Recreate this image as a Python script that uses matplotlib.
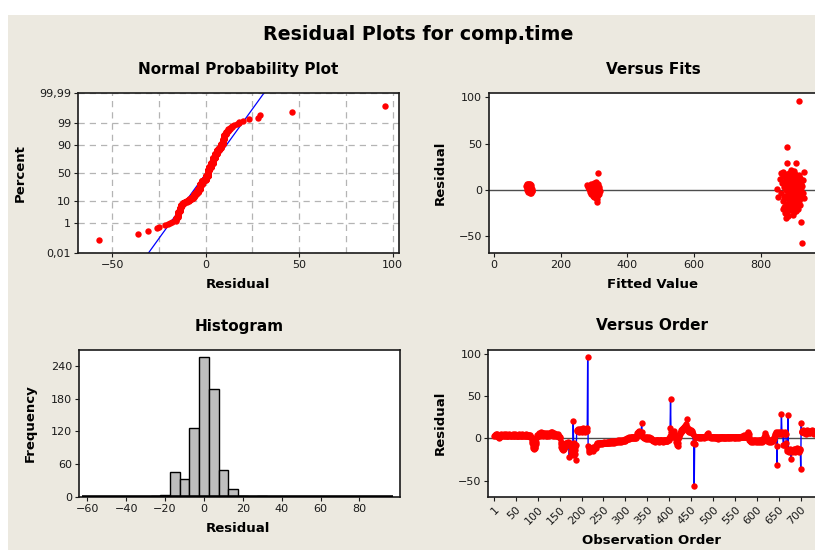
import numpy as np
import matplotlib
matplotlib.use('Agg')
import matplotlib.pyplot as plt
from matplotlib.patches import Rectangle
from statistics import NormalDist

W, H = 815, 550
BEIGE = '#ECE9E0'
RED = '#FF0000'
BLUE = '#0000FF'

# residuals in observation order (1..734)
resid = np.array([
    3, 4, 4, 5, 4, 3, 4, 5, 3, 2, 1, 0, 2, 3, 4, 4, 5, 4, 3, 4,
    4, 5, 4, 3, 3, 4, 5, 4, 3, 4, 3, 4, 3, 5, 4, 3, 4, 4, 3, 4,
    3, 4, 5, 4, 3, 4, 3, 4, 5, 3, 4, 4, 3, 3, 4, 3, 5, 4, 4, 3,
    4, 3, 4, 3, 5, 4, 3, 4, 4, 3, 3, 4, 5, 4, 3, 3, 4, 3, 4, 4,
    3, 4, 2, 1,
    1, 0, -3, -6, -9, -11, -12, -13, -12, -10, -7, -4, 0, 2, 4, 4,
    4, 5, 6, 4, 3, 5, 6, 7, 6, 4, 3, 5, 6, 4, 6, 5, 4, 3, 5, 6,
    4, 3, 5, 6, 4, 3, 5, 4, 5, 6, 7, 8, 5, 4, 3, 5, 6, 4, 3, 5,
    5, 4, 3, 4, 3, 4, 5, 3, 2, 1,
    0, -4, -7, -10, -13, -12, -14, -11, -9, -12, -13, -10, -8, -6, -5, -7, -6, -4, -5, -8,
    -6, -22, -8, -5, -7, -9, -15, -18, -12, -20, 20, -9, -6, -14, -10, -19, -26, -8, 9, 10,
    10, 9, 11, 10, 8, 11, 10, 9, 11, 8, 10, 9, 12, 11, 10, 9, 8, 10, 11, 9, 10, 12, 9,
    96,
    -9, -12, -14, -16, -13, -15, -12, -11, -14, -13, -15, -12, -10, -11, -13, -12, -10, -9, -11, -8, -7, -6,
    -7, -6, -7, -6, -5, -7, -6, -6, -5, -6, -7, -5, -6, -5, -6, -4, -5, -6, -5, -5,
    -4, -5, -6, -4, -5, -4, -5, -4, -4, -5, -3, -4, -5, -4, -4, -3, -4, -5, -4, -3,
    -4, -3, -4, -3, -3, -4, -2, -3, -4, -3, -3, -2, -3, -4, -3, -2, -3, -3, -2, -3,
    -2, -3, -2, -1,
    -1, -2, -1, 0, 0, -1, 0, -1, 1, 0, 0, 1, 0, 1, 1, 0, 0, 1, 1, 0, 1, 0, 1, 0,
    2, 4, 6, 8, 6, 8, 9, 7, 5, 8, 6, 4, 18, 7, 3, 2,
    1, 0, 1, 0, 0, 1, -1, 0, 1, 0, 0, -1, 0, 1, 0, -1, 0, 0, -1, -2,
    -2, -3, -2, -2, -3, -2, -3, -4, -2, -3, -2, -3, -2, -2, -3, -4, -3, -2, -3, -2,
    -3, -2, -3, -2, -3, -4, -2, -3, -2, -3, -2, -2, -3, -3, -2, -3, -2, -1, -2, 0,
    3, 12, 46, 7, 4, 2, 5, 8, 1, 3, 6, 9, 4, 2, 0, -4, -6, -8, -9, -5,
    -1, 2, 4, 6, 5, 8, 7, 10, 9, 11, 12, 10, 13, 12, 14, 15, 14, 17, 13, 23,
    13, 10, 9, 11, 8, 10, 9, 7, 10, 8, 6, 9, 7, 5, -6, -5, -57, -7, 2, 1,
    2, 1, 2, 1, 1, 2, 0, 1, 2, 1, 1, 0, 1, 2, 1, 1, 2, 1, 0, 1,
    1, 2, 1, 2, 3, 4, 5, 6, 4, 3, 2, 1, 1, 2, 1, 0, 1, 2, 1, 1,
    0, 1, 1, 0, 1, 2, 0, 1, 1, 0, -1, 0, 1, 1, 0, 1, 0, 1, 2, 1,
    1, 0, 1, 0, 1, 1, 0, 2, 1, 0, 1, 1, 0, 1, 2, 1, 0, 1, 1, 2,
    1, 0, 1, 1, 2, 1, 0, 1, 1, 0, 1, 2, 1, 1, 0, 1, 2, 1, 1, 0,
    1, 2, 1, 1, 2, 3, 2, 1, 2, 3, 4, 2, 1, 2, 1, 2, 3, 5, 6, 8,
    5, 2,
    -2, -3, -2, -3, -4, -3, -2, -3, -3, -4, -2, -3, -3, -2, -4, -3, -3, -2, -3, -4,
    -3, -2, -3, -3, -4, -2, -3, -2, -3, -4, -3, -2, -1, 0, 2, 4, 6, 3, 1, -1,
    -2, -3, -2, -3, -4, -3, -2, -3, -3, -2, -4, -3, -2, -3, -2, -1, 0, 2, 4,
    5, 6, 7, -9, -31, 6, 5, 7, 6, 5, 7, 6, 5, 6, 29, 7, 5, 6, -8, -8,
    6, 5, 7, 6, 5, -6, -13, -15, -14, 28, -15, -16, -14, -15, -13, -15, -25, -14, -15, -16,
    -15, -14, -13, -15, -16, -14, -13, -15, -14, -12, -14, -15, -13, -14, -15, -16, -14, -13, -36,
    18, 8, 9, 7, 10, 8, 9, 6, 8, 9, 5, 8, 9, 10, 7, 8, 9, 8, 6, 9,
    8, 6, 9, 7, 10, 8, 6, 7, 9, 8, 5, 8, 7, 9,
], dtype=float)

# versus fits: three groups of fitted values
fit_low_x = [96, 98, 100, 101, 103, 104, 105, 106, 107, 108, 110, 111, 112, 113,
             99, 102, 104, 106, 109, 111, 113, 115, 100, 103, 105, 108, 110]
fit_low_y = [4, 2, 6, 3, 5, 7, 1, 4, 6, 2, 5, 0, 3, -1,
             0, -2, -1, 2, -3, -2, 1, -1, 5, 7, 3, 0, -3]
fit_mid_x = [278, 282, 285, 287, 289, 290, 292, 293, 295, 296, 297, 298, 299, 300,
             301, 302, 303, 304, 305, 306, 307, 308, 309, 310, 311, 312, 313, 314,
             315, 316, 318, 294, 300, 305, 309, 313]
fit_mid_y = [5, 3, 1, -2, 4, 6, -4, 0, 2, -6, -1, 3, -8, 5,
             1, -3, 7, -5, 2, -9, 4, 0, -13, -7, 6, -2, 18, 3,
             -4, 1, -1, -3, 8, 9, -10, -5]
fit_high_x = [914, 879, 879, 906, 892, 867, 930, 848, 925, 876, 920, 925, 880, 905,
              853, 857, 860, 862, 864, 866, 868, 870, 871, 872, 873, 874, 875, 876,
              877, 878, 878, 879, 880, 881, 882, 883, 883, 884, 885, 885, 886, 887,
              887, 888, 889, 889, 890, 890, 891, 892, 892, 893, 894, 894, 895, 895,
              896, 897, 897, 898, 898, 899, 899, 900, 900, 901, 901, 902, 903, 903,
              904, 904, 905, 906, 906, 907, 908, 908, 909, 909, 910, 911, 911, 912,
              913, 913, 914, 915, 916, 917, 917, 918, 919, 920, 921, 922, 924, 926,
              928, 931, 866, 870, 872, 883, 888, 896]
fit_high_y = [96, 46, 29, 29, 22, 19, 19, 1, -8, -30, -35, -57, -23, -23,
              -8, 12, 18, -3, 8, -12, 15, 3, -18, 10, -6, 17, 0, -15,
              6, 12, -9, -26, 2, 15, -4, 8, -20, -11, 18, 4, -2, 10,
              -16, -7, 13, 1, 6, -13, -21, 9, -3, 16, -10, 3, 11, -18,
              -5, 7, 14, 0, -12, 20, 5, -8, -24, 12, 2, -15, 9, -4,
              17, -19, 6, -10, 13, 1, -6, 15, -14, 8, 3, -2, -20, 11,
              -8, 5, 16, -12, 2, 9, -5, -16, 13, 0, 7, -9, 4, -3,
              11, -9, -20, -8, -25, -28, -22, -27]

# histogram of residuals (bin centres, width 5)
hist_centers = list(range(-60, 100, 5))
hist_counts = [1, 0, 0, 0, 0, 1, 1, 3, 4, 47, 34, 127, 255, 197, 50, 16,
               3, 1, 2, 0, 0, 1, 0, 0, 0, 0, 0, 0, 0, 0, 0, 1]
bin_width = 5

pct_ticks = [0.01, 1, 10, 50, 90, 99, 99.99]
pct_labels = ['0,01', '1', '10', '50', '90', '99', '99,99']
order_ticks = [1] + list(range(50, 701, 50))

nd = NormalDist()

fig = plt.figure(figsize=(W / 100, H / 100), dpi=100, facecolor='white')
fig.patches.append(Rectangle((8 / W, 0), 1, (H - 15) / H, transform=fig.transFigure,
                             facecolor=BEIGE, edgecolor='none', zorder=-10))


def panel(l, t, r, b):
    ax = fig.add_axes([l / W, 1 - b / H, (r - l) / W, (b - t) / H])
    for s in ax.spines.values():
        s.set_linewidth(1.2)
        s.set_color('#1A1A1A')
    ax.tick_params(direction='out', length=3, width=0.8, labelsize=8, pad=2,
                   top=False, right=False, colors='#1A1A1A')
    return ax


def text(x, y, s, size, bold=True, rot=0):
    fig.text(x / W, 1 - y / H, s, ha='center', va='center', fontsize=size,
             fontweight='bold' if bold else 'normal', rotation=rot, color='black')


def dots(ax, x, y):
    ax.plot(x, y, 'o', ms=4.6, color=RED, mew=0, zorder=3)


text(418, 34, 'Residual Plots for comp.time', 13.7)

# normal probability plot
ax1 = panel(78, 93, 399, 253)
n = len(resid)
srt = np.sort(resid)
p = (np.arange(1, n + 1) - 0.3) / (n + 0.4)
z = np.array([nd.inv_cdf(v) for v in p])
zlim = nd.inv_cdf(0.9999)
mu, sd = resid.mean(), resid.std(ddof=1)
for xv in [-50, -25, 0, 25, 50, 75, 100]:
    ax1.axvline(xv, color='#B4B4B4', lw=0.9, ls=(0, (5, 4)), zorder=0)
for pv in pct_ticks:
    ax1.axhline(nd.inv_cdf(pv / 100), color='#B4B4B4', lw=0.9, ls=(0, (5, 4)), zorder=0)
zz = np.array([-zlim, zlim])
ax1.plot(mu + sd * zz, zz, color=BLUE, lw=0.9, zorder=2)
dots(ax1, srt, z)
ax1.set_xlim(-68.3, 103.4)
ax1.set_ylim(-zlim, zlim)
ax1.set_xticks([-50, 0, 50, 100])
ax1.set_yticks([nd.inv_cdf(v / 100) for v in pct_ticks])
ax1.set_yticklabels(pct_labels)
text(238.5, 70, 'Normal Probability Plot', 11)
text(238, 285, 'Residual', 9.5)
text(20, 173, 'Percent', 9.5, rot=90)

# versus fits
ax2 = panel(489, 93, 817, 253)
ax2.axhline(0, color='#4D4D4D', lw=1, zorder=1)
dots(ax2, fit_low_x + fit_mid_x + fit_high_x, fit_low_y + fit_mid_y + fit_high_y)
ax2.set_xlim(-15, 969)
ax2.set_ylim(-68.0, 104.7)
ax2.set_xticks([0, 200, 400, 600, 800])
ax2.set_yticks([-50, 0, 50, 100])
text(653, 70, 'Versus Fits', 11)
text(652.7, 285, 'Fitted Value', 9.5)
text(440, 173, 'Residual', 9.5, rot=90)

# histogram; empty bins show up as a heavy outline along zero
ax3 = panel(79, 349.5, 400, 497.3)
ax3.bar(hist_centers, hist_counts, width=bin_width, color='#BEBEBE', edgecolor='black',
        linewidth=1, zorder=2)
ax3.hlines(0, hist_centers[0] - bin_width / 2, hist_centers[-1] + bin_width / 2,
           color='black', lw=2.6, zorder=3)
ax3.set_xlim(-64.3, 100.9)
ax3.set_ylim(0, 269.5)
ax3.set_xticks(range(-60, 81, 20))
ax3.set_yticks([0, 60, 120, 180, 240])
text(239, 326, 'Histogram', 11)
text(238, 529, 'Residual', 9.5)
text(30, 423, 'Frequency', 9.5, rot=90)

# versus order
ax4 = panel(488.3, 349.5, 817, 497.3)
obs = np.arange(1, n + 1)
ax4.axhline(0, color='#4D4D4D', lw=1, zorder=1)
ax4.plot(obs, resid, color=BLUE, lw=1, zorder=2)
dots(ax4, obs, resid)
ax4.set_xlim(-12.7, 737.1)
ax4.set_ylim(-69.8, 105.1)
ax4.set_xticks(order_ticks)
ax4.set_xticklabels([str(t) for t in order_ticks], rotation=45, ha='right',
                    va='top', rotation_mode='anchor')
ax4.set_yticks([-50, 0, 50, 100])
text(652, 326, 'Versus Order', 11)
text(652, 540.7, 'Observation Order', 9.5)
text(440, 423, 'Residual', 9.5, rot=90)

fig.savefig('out.png', dpi=100, facecolor=fig.get_facecolor())
